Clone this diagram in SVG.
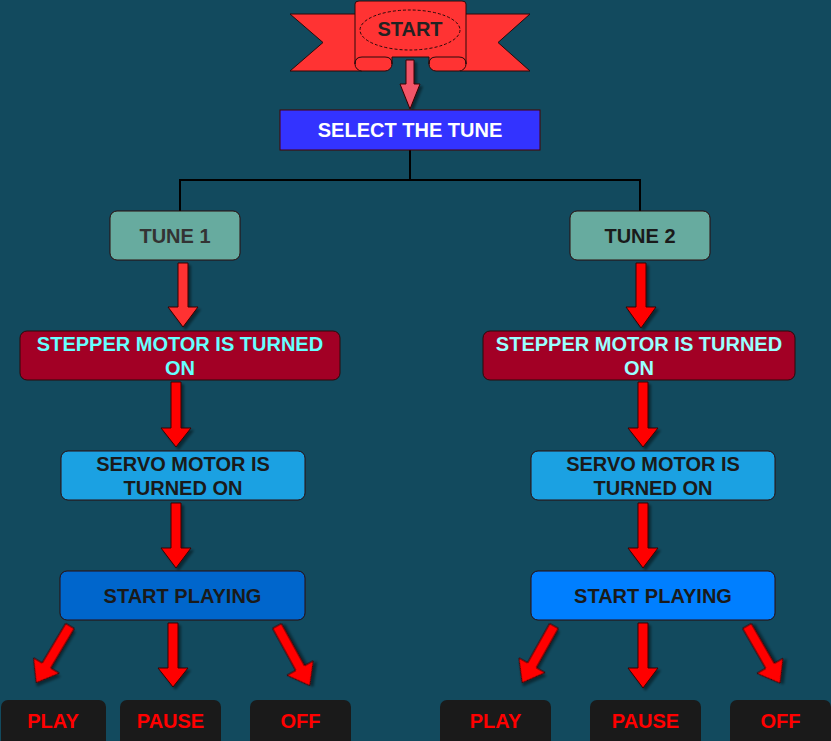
<svg xmlns="http://www.w3.org/2000/svg" width="831" height="741" viewBox="0 0 831 741">
<defs>
<filter id="sh" x="-50%" y="-50%" width="200%" height="200%">
<feDropShadow dx="2.5" dy="2.5" stdDeviation="1" flood-color="#000" flood-opacity="0.45"/>
</filter>
<style>
.t{font-family:"Liberation Sans",Arial,sans-serif;font-weight:bold;text-anchor:middle;font-size:20px}
.box{stroke:#2a0a0a;stroke-width:1}
.arr{fill:#FF0000;stroke:#3a0000;stroke-width:1;filter:url(#sh)}
.bot{fill:#1A1A1A}
.bt{fill:#FF0000}
</style>
</defs>
<rect width="831" height="741" fill="#124A5E"/>

<g id="start">
<polygon points="290,14 362,14 362,71 290,71 323,42.5" fill="#FF3333" stroke="#2a0a0a"/>
<polygon points="530,14 460,14 460,71 530,71 498,42.5" fill="#FF3333" stroke="#2a0a0a"/>
<rect x="355" y="56" width="37" height="15" rx="7" fill="#FF3333" stroke="#2a0a0a"/>
<rect x="429" y="56" width="37" height="15" rx="7" fill="#FF3333" stroke="#2a0a0a"/>
<path d="M355,64 L355,4 Q355,1 359,1 L462,1 Q466,1 466,4 L466,64 Q466,57 459,57 L436,57 Q429,57 429,64 L429,57 L392,57 L392,64 Q392,57 385,57 L362,57 Q355,57 355,64 Z" fill="#FF3333" stroke="#2a0a0a"/>
<ellipse cx="410" cy="30" rx="50" ry="20" fill="none" stroke="#2a0a0a" stroke-dasharray="3,2"/>
<text class="t" x="410" y="36" font-size="16.5" fill="#222">START</text>
</g>

<g id="connectors">
<path d="M410,150 V180 M180,211 V180 H640 V211" fill="none" stroke="#000" stroke-width="2"/>
<polygon points="406,60 414,60 414,84 420,84 410,109 400,84 406,84" fill="#F25468" stroke="#3a0000" filter="url(#sh)"/>
<polygon class="arr" style="fill:#FF3333" points="178,263 188,263 188,307 198,307 183,327 168,307 178,307"/>
<polygon class="arr" points="636,263 646,263 646,307 656,307 641,328 626,307 636,307"/>
<polygon class="arr" points="171,382 181,382 181,428 191,428 176,447 161,428 171,428"/>
<polygon class="arr" points="638,382 648,382 648,428 658,428 643,447 628,428 638,428"/>
<polygon class="arr" points="171,503 181,503 181,548 191,548 176,568 161,548 171,548"/>
<polygon class="arr" points="638,503 648,503 648,548 658,548 643,568 628,548 638,548"/>
<polygon class="arr" points="168,623 178,623 178,668 188,668 173,687 158,668 168,668"/>
<polygon class="arr" points="638,623 648,623 648,668 658,668 643,688 628,668 638,668"/>
<polygon class="arr" transform="translate(70,626) rotate(30.8)" points="-5,0 5,0 5,46 15,46 0,66 -15,46 -5,46"/>
<polygon class="arr" transform="translate(277,626) rotate(-28.8)" points="-5,0 5,0 5,48 15,48 0,68 -15,48 -5,48"/>
<polygon class="arr" transform="translate(554,626) rotate(29.3)" points="-5,0 5,0 5,45 15,45 0,65 -15,45 -5,45"/>
<polygon class="arr" transform="translate(747,626) rotate(-30)" points="-5,0 5,0 5,46 15,46 0,66 -15,46 -5,46"/>
</g>

<g id="select">
<rect x="280" y="110" width="260" height="40" fill="#3333FF" stroke="#4a0000"/>
<text class="t" x="410" y="137" fill="#FFFFFF">SELECT THE TUNE</text>
</g>

<g id="tune1">
<rect class="box" x="110" y="211" width="130" height="49" rx="7" fill="#67AB9F"/>
<text class="t" x="175" y="243" fill="#333333">TUNE 1</text>
</g>
<g id="tune2">
<rect class="box" x="570" y="211" width="140" height="49" rx="7" fill="#67AB9F"/>
<text class="t" x="640" y="243" fill="#1a1a1a">TUNE 2</text>
</g>

<g id="stepper1">
<rect class="box" x="20" y="331" width="320" height="49" rx="7" fill="#A20025"/>
<text class="t" x="180" y="350.5" fill="#66FFFF">STEPPER MOTOR IS TURNED</text>
<text class="t" x="180" y="375" fill="#66FFFF">ON</text>
</g>
<g id="stepper2">
<rect class="box" x="483" y="331" width="312" height="49" rx="7" fill="#A20025"/>
<text class="t" x="639" y="350.5" fill="#99FFFF">STEPPER MOTOR IS TURNED</text>
<text class="t" x="639" y="375" fill="#99FFFF">ON</text>
</g>

<g id="servo1">
<rect class="box" x="61" y="451" width="244" height="49" rx="7" fill="#1BA1E2"/>
<text class="t" x="183" y="471" fill="#1a1a1a">SERVO MOTOR IS</text>
<text class="t" x="183" y="494.5" fill="#1a1a1a">TURNED ON</text>
</g>
<g id="servo2">
<rect class="box" x="531" y="451" width="244" height="49" rx="7" fill="#1BA1E2"/>
<text class="t" x="653" y="471" fill="#1a1a1a">SERVO MOTOR IS</text>
<text class="t" x="653" y="494.5" fill="#1a1a1a">TURNED ON</text>
</g>

<g id="play1">
<rect class="box" x="60" y="571" width="245" height="49" rx="7" fill="#0066CC"/>
<text class="t" x="182.5" y="602.5" fill="#1a1a1a">START PLAYING</text>
</g>
<g id="play2">
<rect class="box" x="531" y="571" width="244" height="49" rx="7" fill="#007FFF"/>
<text class="t" x="653" y="602.5" fill="#1a1a1a">START PLAYING</text>
</g>

<g id="l_play"><rect class="bot" x="1" y="700" width="105" height="50" rx="7"/><text class="t bt" x="53" y="727.5">PLAY</text></g>
<g id="l_pause"><rect class="bot" x="120" y="700" width="101" height="50" rx="7"/><text class="t bt" x="170.5" y="727.5">PAUSE</text></g>
<g id="l_off"><rect class="bot" x="250" y="700" width="101" height="50" rx="7"/><text class="t bt" x="300.5" y="727.5">OFF</text></g>
<g id="r_play"><rect class="bot" x="440" y="700" width="111" height="50" rx="7"/><text class="t bt" x="495.5" y="727.5">PLAY</text></g>
<g id="r_pause"><rect class="bot" x="590" y="700" width="111" height="50" rx="7"/><text class="t bt" x="645.5" y="727.5">PAUSE</text></g>
<g id="r_off"><rect class="bot" x="730" y="700" width="101" height="50" rx="7"/><text class="t bt" x="780.5" y="727.5">OFF</text></g>
</svg>
